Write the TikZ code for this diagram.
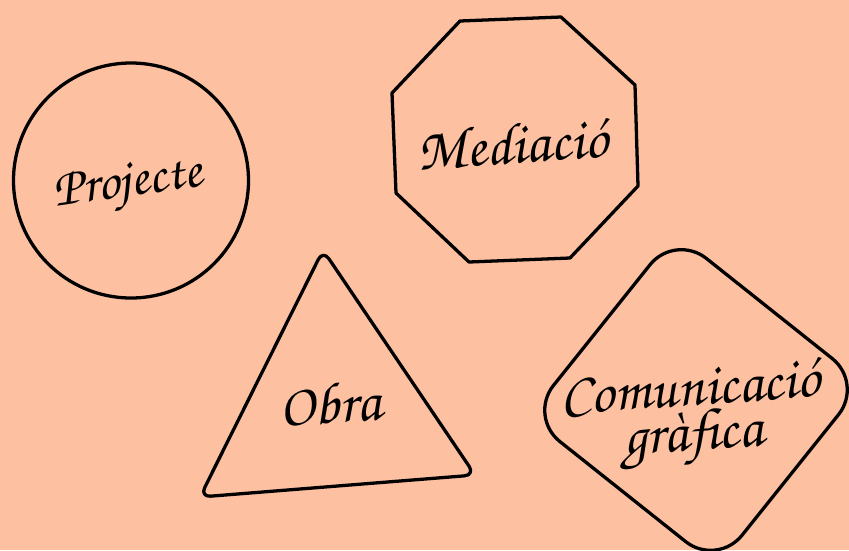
\documentclass[tikz,border=0pt]{standalone}
\usepackage{fontspec}
\IfFontExistsTF{TeX Gyre Chorus}
  {\newfontfamily\scriptfnt{TeX Gyre Chorus}}
  {\newfontfamily\scriptfnt{Liberation Serif}[UprightFont=*-Italic]}
\definecolor{peach}{RGB}{253,192,161}
\tikzset{
  outline/.style={draw=black, line width=2.8pt, line join=round},
  lbl/.style={font=\scriptfnt\fontsize{50}{35}\selectfont, align=center, inner sep=0pt}
}
\begin{document}
\begin{tikzpicture}[x=0.03cm, y=-0.03cm]
\fill[peach] (0,0) rectangle (849,550);
\useasboundingbox (0,0) rectangle (849,550);
% circle
\draw[outline] (131,180.5) circle[radius=117.5];
\node[lbl, font=\scriptfnt\fontsize{46}{35}\selectfont, rotate=8] (proj) at (128,186) {Projecte};
% octagon
\draw[outline] (460,21) -- (561,17) -- (635,85) -- (638,186) -- (570,258) -- (469,262) -- (396,193) -- (392,93) -- cycle;
\node[lbl, rotate=4] (med) at (512,144) {Mediació};
% triangle
\draw[outline, rounded corners=9pt] (323,250) -- (475,475) -- (200,497) -- cycle;
\node[lbl, rotate=4] (obra) at (330,404) {Obra};
% rounded square
\draw[outline, rounded corners=1.2cm] (675,233.5) -- (863.5,383.4) -- (717,566.5) -- (528.5,416.6) -- cycle;
\node[lbl, rotate=4] (com) at (692,416) {Comunicació\\gràfica};
\end{tikzpicture}
\end{document}
